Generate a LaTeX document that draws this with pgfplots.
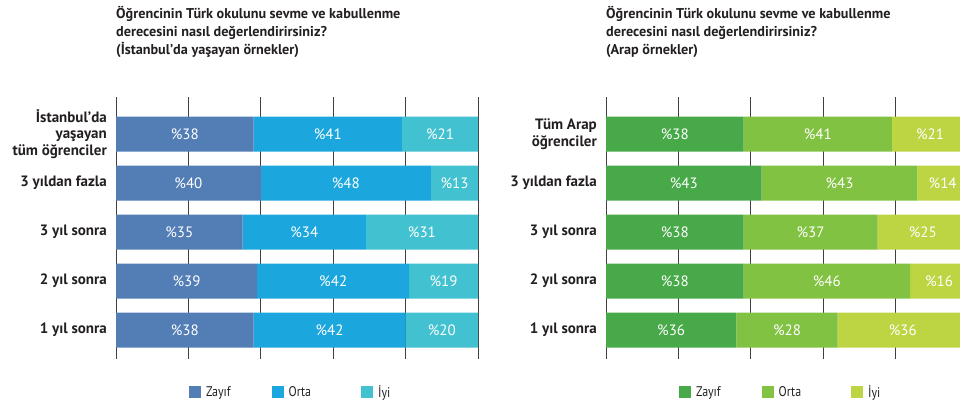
\documentclass[border=0pt]{standalone}
\usepackage{pgfplots}
\pgfplotsset{compat=1.18}
\usepackage{pgfplotstable}
\usepackage{fontspec}
\setmainfont{PT Sans}
\newfontfamily\condfont[FakeStretch=0.85]{PT Sans}
\definecolor{zb}{HTML}{527DB5}
\definecolor{ob}{HTML}{1BA7DD}
\definecolor{ib}{HTML}{42C2D0}
\definecolor{zg}{HTML}{48A948}
\definecolor{og}{HTML}{82C242}
\definecolor{ig}{HTML}{BDD443}
\definecolor{txt}{HTML}{231F20}

% bar lengths as drawn (zayif, orta, iyi) and printed labels (lz, lo, li)
\pgfplotstableread{
row zayif orta iyi lz lo li
0 38 42 20 38 42 20
1 39 42 19 39 42 19
2 35 34 31 35 34 31
3 40 47 13 40 48 13
4 38 41 21 38 41 21
}\ist
\pgfplotstableread{
row zayif orta iyi lz lo li
0 36 28 36 36 28 36
1 38 46 16 38 46 16
2 38 37 25 38 37 25
3 43 43 14 43 43 14
4 38 41 21 38 41 21
}\arap

\pgfplotsset{
 mybar/.style={
  xbar stacked, bar width=35pt, scale only axis, width=362pt, height=262pt,
  xmin=0, xmax=100, ymin=-0.59, ymax=4.755,
  xtick={0,20,...,100}, xticklabels={}, xmajorgrids,
  grid style={black!75, line width=0.9pt},
  ytick={0,...,4}, major tick length=0pt,
  axis line style={draw=none},
  /pgf/number format/assume math mode=true,
  yticklabel style={font=\fontsize{15}{16.5}\selectfont\bfseries, text=txt, align=right, inner sep=0pt, xshift=-9pt},
  point meta=explicit,
  nodes near coords={\%\pgfmathprintnumber{\pgfplotspointmeta}},
  nodes near coords align={center},
  every node near coord/.append style={font=\fontsize{15}{16}\selectfont, text=white, anchor=center},
  legend style={draw=none, fill=none, inner sep=0pt, outer sep=0pt, at={(0.2017,-0.126)}, anchor=west,
    legend columns=3, font=\condfont\fontsize{14}{15}\selectfont, text=txt,
    /tikz/every even column/.append style={column sep=39pt},
    /tikz/every odd column/.append style={column sep=3pt}},
  legend cell align=left,
  legend image code/.code={\fill[##1] (0pt,-6pt) rectangle (12pt,6pt);},
 }
}

\begin{document}
\begin{tikzpicture}
\path[use as bounding box] (0pt,0pt) rectangle (960pt,-407pt);
\node[anchor=north west, align=left, inner sep=0pt, font=\fontsize{14.2}{18}\selectfont\bfseries, text=txt] at (116pt,-6pt)
 {Öğrencinin Türk okulunu sevme ve kabullenme\\derecesini nasıl değerlendirirsiniz?\\(İstanbul’da yaşayan örnekler)};
\node[anchor=north west, align=left, inner sep=0pt, font=\fontsize{14.2}{18}\selectfont\bfseries, text=txt] at (606pt,-6pt)
 {Öğrencinin Türk okulunu sevme ve kabullenme\\derecesini nasıl değerlendirirsiniz?\\(Arap örnekler)};

\begin{axis}[mybar, at={(116pt,-97pt)}, anchor=north west,
  yticklabels={1 yıl sonra, 2 yıl sonra, 3 yıl sonra, 3 yıldan fazla, {İstanbul’da\\yaşayan\\tüm öğrenciler}}]
\addplot[fill=zb, draw=none] table[x=zayif, y=row, meta=lz] {\ist};
\addplot[fill=ob, draw=none] table[x=orta, y=row, meta=lo] {\ist};
\addplot[fill=ib, draw=none] table[x=iyi, y=row, meta=li] {\ist};
\legend{Zayıf, Orta\rule{9pt}{0pt}, İyi}
\end{axis}

\begin{axis}[mybar, at={(606pt,-97pt)}, anchor=north west,
  yticklabels={1 yıl sonra, 2 yıl sonra, 3 yıl sonra, 3 yıldan fazla, {Tüm Arap\\öğrenciler}}]
\addplot[fill=zg, draw=none] table[x=zayif, y=row, meta=lz] {\arap};
\addplot[fill=og, draw=none] table[x=orta, y=row, meta=lo] {\arap};
\addplot[fill=ig, draw=none] table[x=iyi, y=row, meta=li] {\arap};
\legend{Zayıf, Orta\rule{9pt}{0pt}, İyi}
\end{axis}
\end{tikzpicture}
\end{document}
